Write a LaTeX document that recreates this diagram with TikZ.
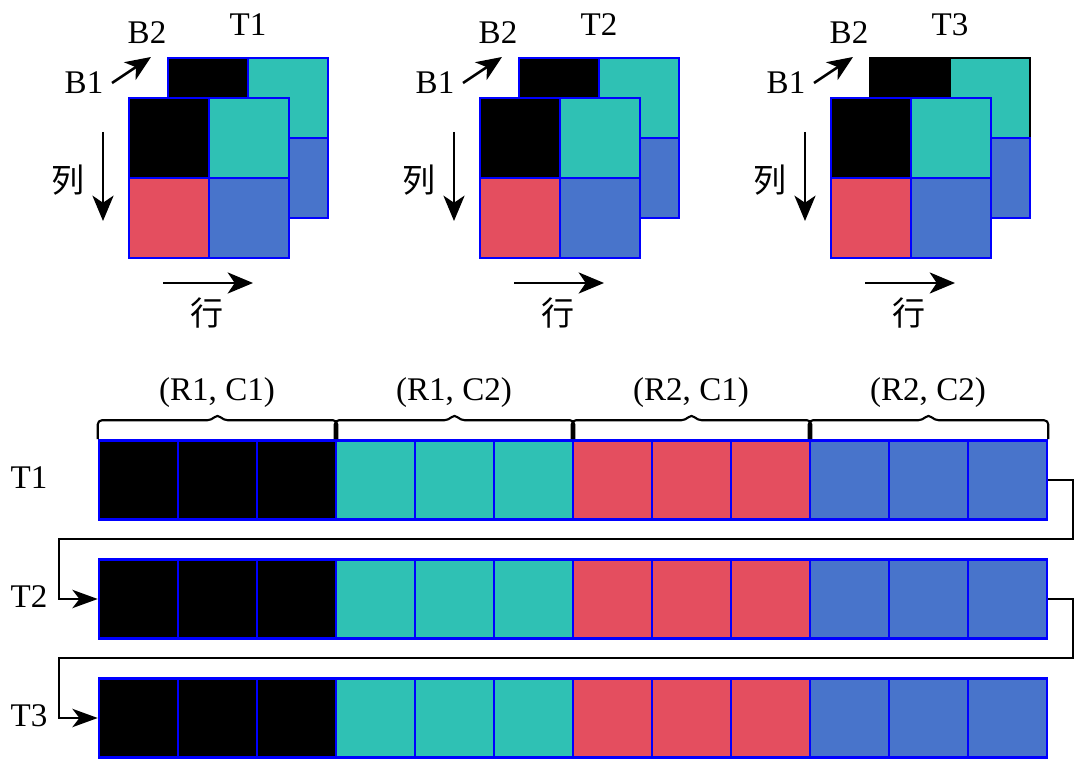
\documentclass[tikz,border=0pt]{standalone}
\usepackage{fontspec}
\setmainfont{Liberation Serif}
\newfontfamily\cjk{Noto Sans CJK SC}
\usetikzlibrary{arrows.meta,positioning,calc}
\definecolor{cteal}{RGB}{47,193,180}
\definecolor{cred}{RGB}{228,78,95}
\definecolor{cblue}{RGB}{72,116,203}
\definecolor{cedge}{RGB}{0,0,255}

\begin{document}
\begin{tikzpicture}[x=0.025cm, y=-0.025cm, font=\fontsize{23.5}{26}\selectfont]
  \tikzstyle{cell}=[rectangle, draw=cedge, line width=1.8pt, minimum size=2cm, inner sep=0pt]
  \tikzstyle{lbl}=[inner sep=0pt]
  \tikzstyle{arr}=[-{Stealth[length=18pt, width=15pt, inset=5pt]}, line width=1.8pt]
  \tikzstyle{flow}=[-{Stealth[length=18pt, width=13pt, inset=5pt]}, line width=1.6pt]
  \tikzstyle{brc}=[line width=1.5pt, rounded corners=3pt]

  \useasboundingbox (0,0) rectangle (1080,766);

  % Bloques T1, T2, T3
  \foreach \g/\gx/\bk in {1/129/cedge, 2/480/cedge, 3/831/black} {
    % capa B2
    \node[cell, draw=\bk, fill=black] (b\g a) at (\gx+79,98) {};
    \node[cell, draw=\bk, fill=cteal] (b\g b) at (\gx+159,98) {};
    \node[cell, fill=cblue] (b\g d) at (\gx+159,178) {};
    % capa B1
    \node[cell, fill=black] (f\g a) at (\gx+40,138) {};
    \node[cell, fill=cteal] (f\g b) at (\gx+120,138) {};
    \node[cell, fill=cred] (f\g c) at (\gx+40,218) {};
    \node[cell, fill=cblue] (f\g d) at (\gx+120,218) {};
    % etiquetas
    \node[lbl] (t\g) at (\gx+119,25) {T\g};
    \node[lbl] (bone\g) at (\gx-45,83) {B1};
    \node[lbl] (btwo\g) at (\gx+18,33) {B2};
    \node[lbl] (col\g) at (\gx-61,180) {\cjk 列};
    \node[lbl] (row\g) at (\gx+78,313) {\cjk 行};
    \coordinate (ua\g) at (\gx-17,83);
    \coordinate (ub\g) at (\gx+22,57);
    \coordinate (ca\g) at (\gx-26,132);
    \coordinate (cb\g) at (\gx-26,221);
    \coordinate (ra\g) at (\gx+34,283);
    \coordinate (rb\g) at (\gx+124,283);
    \draw[arr] (ua\g) -- (ub\g);
    \draw[arr] (ca\g) -- (cb\g);
    \draw[arr] (ra\g) -- (rb\g);
  }

  % Filas T1, T2, T3
  \foreach \r/\ry in {1/480, 2/599, 3/718} {
    \node[lbl] (rt\r) at (29,\ry-2) {T\r};
    \foreach \c/\cc in {1/black, 2/black, 3/black, 4/cteal, 5/cteal, 6/cteal,
                        7/cred, 8/cred, 9/cred, 10/cblue, 11/cblue, 12/cblue} {
      \node[cell, minimum size=1.975cm, fill=\cc] (r\r-\c) at ({99+79*(\c-0.5)},\ry) {};
    }
  }

  % Llaves
  \foreach \a/\b in {1/3, 4/6, 7/9, 10/12} {
    \draw[brc] (r1-\a.north west) -- ++(0,-19)
      -- ($(r1-\a.north west)!0.5!(r1-\b.north east)+(-6,-19)$) -- ++(6,-6) -- ++(6,6)
      -- ($(r1-\b.north east)+(0,-19)$) -- (r1-\b.north east);
  }
  \node[lbl] (g11) at (217,393) {(R1, C1)};
  \node[lbl] (g12) at (454,393) {(R1, C2)};
  \node[lbl] (g21) at (691,393) {(R2, C1)};
  \node[lbl] (g22) at (928,393) {(R2, C2)};

  % Conexiones
  \coordinate (k1) at (1073,539);
  \coordinate (k2) at (59,539);
  \coordinate (k3) at (1073,658);
  \coordinate (k4) at (59,658);
  \draw[flow] (r1-12.east) -| (k1) -- (k2) |- (r2-1.west);
  \draw[flow] (r2-12.east) -| (k3) -- (k4) |- (r3-1.west);
\end{tikzpicture}
\end{document}
